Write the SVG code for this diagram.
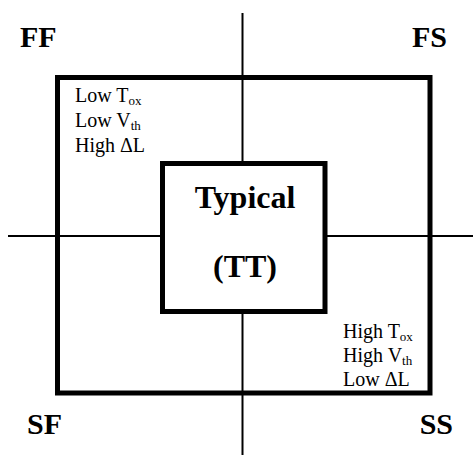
<svg xmlns="http://www.w3.org/2000/svg" width="473" height="455" viewBox="0 0 473 455">
<style>
.ln{stroke:#000;stroke-width:2;fill:none}
.box{stroke:#000;stroke-width:5;fill:#fff}
.big{font-family:"Liberation Serif",serif;font-weight:bold;font-size:30px;fill:#000}
.ctr{font-family:"Liberation Serif",serif;font-weight:bold;font-size:32px;fill:#000;text-anchor:middle}
.sm{font-family:"Liberation Serif",serif;font-size:20px;fill:#000}
.sub{font-size:13px}
</style>
<rect width="473" height="455" fill="#fff"/>
<g id="outer"><rect class="box" x="57.5" y="77.5" width="372.5" height="315.5"/></g>
<g id="connectors">
<line class="ln" x1="242.5" y1="13" x2="242.5" y2="455"/>
<line class="ln" x1="8" y1="236" x2="473" y2="236"/>
</g>
<g id="typical">
<rect class="box" x="162.5" y="163.5" width="162.5" height="148"/>
<text class="ctr" x="245" y="208">Typical</text>
<text class="ctr" x="245" y="277">(TT)</text>
</g>
<g id="ff"><text class="big" x="20" y="47">FF</text></g>
<g id="fs"><text class="big" x="447" y="47" text-anchor="end">FS</text></g>
<g id="sf"><text class="big" x="27" y="434">SF</text></g>
<g id="ss"><text class="big" x="453" y="434" text-anchor="end">SS</text></g>
<g id="fast-params">
<text class="sm" x="75" y="102">Low T<tspan class="sub" dy="3">ox</tspan></text>
<text class="sm" x="75" y="127">Low V<tspan class="sub" dy="3">th</tspan></text>
<text class="sm" x="75" y="152">High ΔL</text>
</g>
<g id="slow-params">
<text class="sm" x="343" y="338">High T<tspan class="sub" dy="3">ox</tspan></text>
<text class="sm" x="343" y="362">High V<tspan class="sub" dy="3">th</tspan></text>
<text class="sm" x="343" y="386">Low ΔL</text>
</g>
</svg>
